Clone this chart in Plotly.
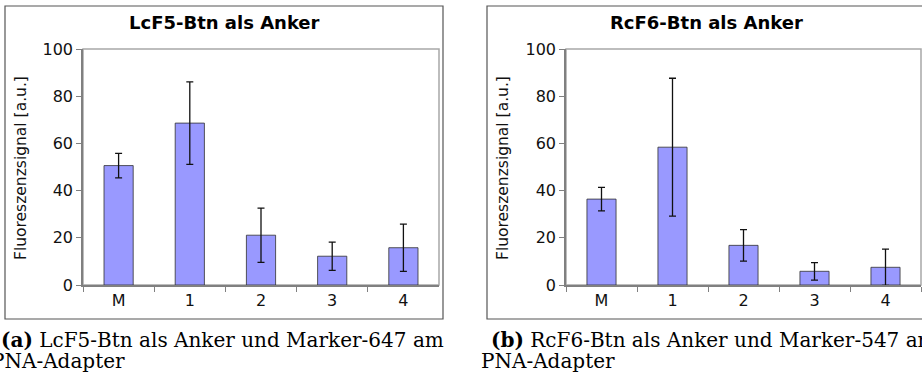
import plotly.graph_objects as go

categories = ["M", "1", "2", "3", "4"]
lc_values = [50.6, 68.6, 21.1, 12.2, 15.8]
lc_errors = [5.2, 17.5, 11.5, 6.0, 10.0]
rc_values = [36.4, 58.4, 16.8, 5.8, 7.5]
rc_errors = [5.0, 29.2, 6.7, 3.7, 7.7]
y_ticks = [0, 20, 40, 60, 80, 100]
titles = ["LcF5-Btn als Anker", "RcF6-Btn als Anker"]
y_title = "Fluoreszenzsignal [a.u.]"
cap_labels = ["(a)", "(b)"]
cap_line1 = ["LcF5-Btn als Anker und Marker-647 am", "RcF6-Btn als Anker und Marker-547 am"]
cap_line2 = ["PNA-Adapter", "PNA-Adapter"]

W, H = 922, 379
def px(x):
    return x / W
def py(y):
    return 1 - y / H

SANS = "DejaVu Sans"
SERIF = "DejaVu Serif"
BAR_COLOR = "#9999ff"

fig = go.Figure()
for i, (vals, errs) in enumerate([(lc_values, lc_errors), (rc_values, rc_errors)]):
    suffix = "" if i == 0 else "2"
    fig.add_trace(go.Bar(
        x=categories, y=vals, width=0.41,
        marker=dict(color=BAR_COLOR, line=dict(color="#303030", width=0.8)),
        error_y=dict(type="data", array=errs, visible=True, color="#111111", thickness=1.3, width=3.5),
        xaxis="x" + suffix, yaxis="y" + suffix, showlegend=False,
    ))

ydom = [py(285), py(49)]
xdoms = [[px(83), px(439)], [px(566), px(921)]]
axis_font = dict(family=SANS, size=16, color="#111111")
layout = dict(
    width=W, height=H, margin=dict(l=0, r=0, t=0, b=0, pad=0, autoexpand=False),
    paper_bgcolor="white", plot_bgcolor="white", showlegend=False,
)
for i in range(2):
    suffix = "" if i == 0 else "2"
    layout["xaxis" + suffix] = dict(
        domain=xdoms[i], anchor="y" + suffix, type="category",
        showline=True, linecolor="#808080", linewidth=1.5,
        ticks="outside", tickson="boundaries", ticklen=5, tickcolor="#808080", tickwidth=1,
        tickfont=axis_font, showgrid=False, zeroline=False, fixedrange=True, automargin=False,
    )
    layout["yaxis" + suffix] = dict(
        domain=ydom, anchor="x" + suffix, range=[0, 100], tickvals=y_ticks,
        showline=True, linecolor="#808080", linewidth=1.5,
        ticks="outside", ticklen=5, tickcolor="#808080", tickwidth=1,
        tickfont=axis_font, showgrid=False, zeroline=False, fixedrange=True, automargin=False,
    )
fig.update_layout(**layout)

shapes = []
# outer boxes
for x0, x1 in [(5, 443), (487, 930)]:
    shapes.append(dict(type="rect", xref="paper", yref="paper",
                       x0=px(x0), x1=px(x1), y0=py(319), y1=py(6),
                       line=dict(color="#555555", width=1.2), layer="below"))
# plot-area frames
for i in range(2):
    suffix = "" if i == 0 else "2"
    shapes.append(dict(type="rect", xref="x" + suffix + " domain", yref="y" + suffix + " domain",
                       x0=0, x1=1, y0=0, y1=1,
                       line=dict(color="#a8a8a8", width=1.5), layer="below"))
fig.update_layout(shapes=shapes)

ann = []
title_x = [224, 706]
ytitle_x = [21, 503]
cap_x1 = [-1, 489]
cap_x2 = [-11, 479]
for i in range(2):
    ann.append(dict(text="<b>" + titles[i] + "</b>", x=px(title_x[i]), y=py(22), xref="paper", yref="paper",
                    showarrow=False, xanchor="center", yanchor="middle",
                    font=dict(family=SANS, size=18, color="#000000")))
    ann.append(dict(text=y_title, x=px(ytitle_x[i]), y=py(168), xref="paper", yref="paper",
                    showarrow=False, xanchor="center", yanchor="middle", textangle=-90,
                    font=dict(family=SANS, size=15.5, color="#111111")))
    ann.append(dict(text="<b>" + cap_labels[i] + "</b> " + cap_line1[i], x=px(cap_x1[i]), y=py(340),
                    xref="paper", yref="paper", showarrow=False, xanchor="left", yanchor="middle",
                    font=dict(family=SERIF, size=20, color="#000000")))
    ann.append(dict(text=cap_line2[i], x=px(cap_x2[i]), y=py(361),
                    xref="paper", yref="paper", showarrow=False, xanchor="left", yanchor="middle",
                    font=dict(family=SERIF, size=20, color="#000000")))
fig.update_layout(annotations=ann)

fig.write_html("out.html", config={"displayModeBar": False},
               post_script="document.body.style.margin='0px';")
